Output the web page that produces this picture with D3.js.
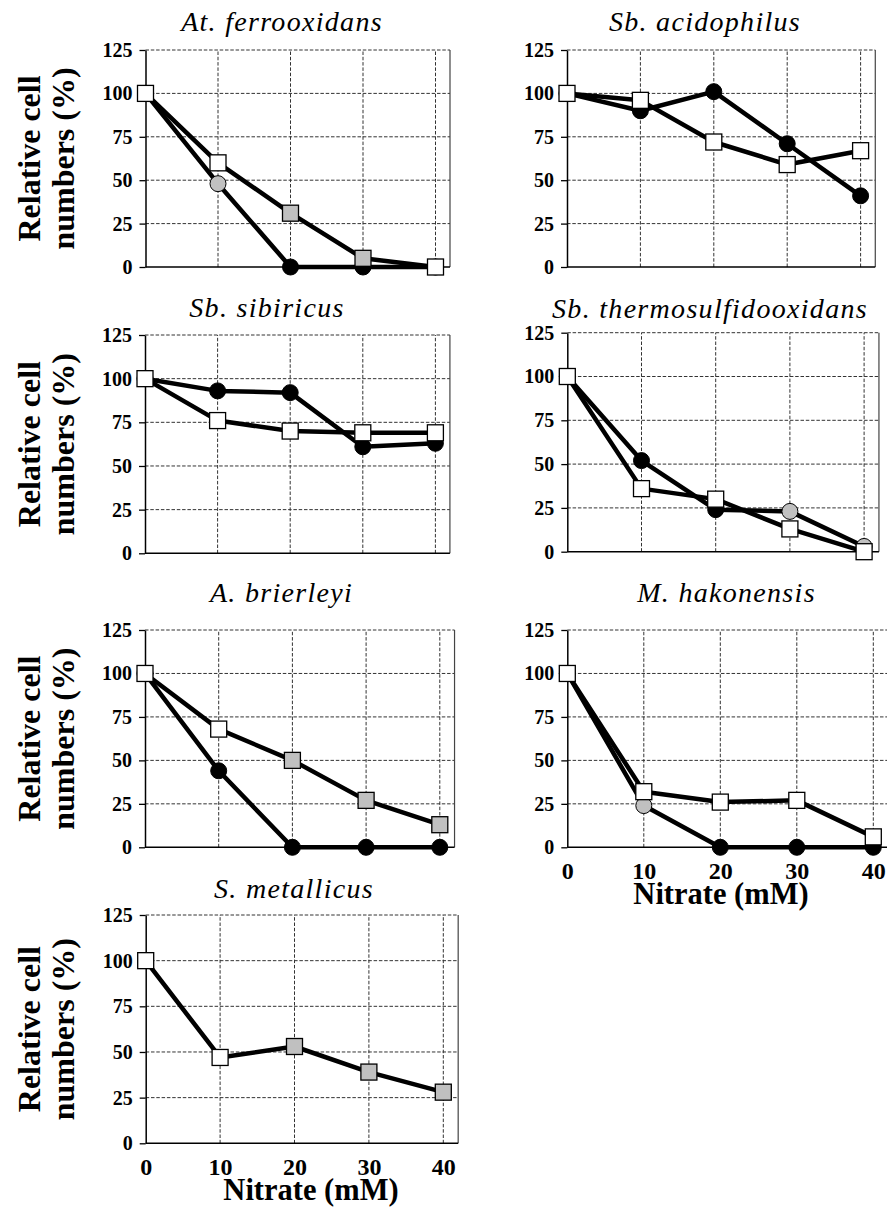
<!DOCTYPE html>
<html>
<head>
<meta charset="utf-8">
<script src="https://cdn.jsdelivr.net/npm/d3@7"></script>
<style>
  html, body { margin: 0; padding: 0; background: #fff; }
  svg { display: block; }
</style>
</head>
<body>
<svg id="chart" width="887" height="1209"></svg>
<script>
// Nitrate concentrations (mM) on the x axis, shared by every panel
const nitrate = [0, 10, 20, 30, 40];
const xTickLabels = [0, 10, 20, 30, 40];
const yTickValues = [0, 25, 50, 75, 100, 125];

// Species shown, one panel each
const species = [
  "At. ferrooxidans", "Sb. acidophilus",
  "Sb. sibiricus", "Sb. thermosulfidooxidans",
  "A. brierleyi", "M. hakonensis",
  "S. metallicus"
];

// Relative cell numbers (%) — circle series (null where a panel has none)
const circleSeries = [
  [100, 48, 0, 0, 0],
  [100, 90, 101, 71, 41],
  [100, 93, 92, 61, 63],
  [100, 52, 24, 23, 3],
  [100, 44, 0, 0, 0],
  [100, 24, 0, 0, 0],
  null
];
// Marker shading per point: k = black, g = grey
const circleShades = [
  ["k", "g", "k", "k", "k"],
  ["k", "k", "k", "k", "k"],
  ["k", "k", "k", "k", "k"],
  ["k", "k", "k", "g", "g"],
  ["k", "k", "k", "k", "k"],
  ["k", "g", "k", "k", "k"],
  null
];

// Relative cell numbers (%) — square series
const squareSeries = [
  [100, 60, 31, 5, 0],
  [100, 96, 72, 59, 67],
  [100, 76, 70, 69, 69],
  [100, 36, 30, 13, 0],
  [100, 68, 50, 27, 13],
  [100, 32, 26, 27, 6],
  [100, 47, 53, 39, 28]
];
// Marker shading per point: w = white, g = grey
const squareShades = [
  ["w", "w", "g", "g", "w"],
  ["w", "w", "w", "w", "w"],
  ["w", "w", "w", "w", "w"],
  ["w", "w", "w", "w", "w"],
  ["w", "w", "g", "g", "g"],
  ["w", "w", "w", "w", "w"],
  ["w", "w", "g", "g", "g"]
];

// Panel frames: plot left edge, pixel step per 10 mM, top (125 %) and bottom (0 %)
const panels = [
  { left: 145.5, step: 72.5, top: 50,    bottom: 267,    titleX: 282,   titleY: 31,  yLabel: true,  xAxis: false },
  { left: 567,   step: 73.4, top: 50,    bottom: 267,    titleX: 705,   titleY: 31,  yLabel: false, xAxis: false },
  { left: 145,   step: 72.6, top: 335,   bottom: 553.3,  titleX: 267,   titleY: 317, yLabel: true,  xAxis: false },
  { left: 567.3, step: 74.2, top: 332.7, bottom: 551.7,  titleX: 710,   titleY: 318, yLabel: false, xAxis: false },
  { left: 145,   step: 73.7, top: 630,   bottom: 847.3,  titleX: 281.5, titleY: 602, yLabel: true,  xAxis: false },
  { left: 567.3, step: 76.5, top: 630,   bottom: 847.3,  titleX: 726.5, titleY: 602, yLabel: false, xAxis: true, xTitleX: 721 },
  { left: 145.7, step: 74.4, top: 915,   bottom: 1143.3, titleX: 294,   titleY: 898, yLabel: true,  xAxis: true, xTitleX: 311 }
];

const shadeColor = { k: "#000000", g: "#c0c0c0", w: "#ffffff" };
const SERIF = '"Liberation Serif"';

const svg = d3.select("#chart");

panels.forEach((p, i) => {
  const x = d3.scaleLinear().domain([0, 42]).range([p.left, p.left + 4.2 * p.step]);
  const y = d3.scaleLinear().domain([0, 125]).range([p.bottom, p.top]);
  const g = svg.append("g");

  // Horizontal dashed gridlines
  g.selectAll("line.hgrid").data(yTickValues.filter(v => v > 0)).join("line")
    .attr("x1", x(0)).attr("x2", x(42))
    .attr("y1", d => y(d)).attr("y2", d => y(d))
    .attr("stroke", "#333").attr("stroke-width", 1).attr("stroke-dasharray", "3.5,1.8");

  // Vertical dashed gridlines
  g.selectAll("line.vgrid").data(nitrate.filter(v => v > 0)).join("line")
    .attr("x1", d => x(d)).attr("x2", d => x(d))
    .attr("y1", y(0)).attr("y2", y(125))
    .attr("stroke", "#333").attr("stroke-width", 1).attr("stroke-dasharray", "3.5,1.8");

  // Right frame edge
  g.append("line")
    .attr("x1", x(42)).attr("x2", x(42)).attr("y1", y(0)).attr("y2", y(125))
    .attr("stroke", "#444").attr("stroke-width", 1.2);

  // Bottom axis line
  g.append("line")
    .attr("x1", x(0)).attr("x2", x(42)).attr("y1", y(0)).attr("y2", y(0))
    .attr("stroke", "#000").attr("stroke-width", 1.5);

  // Left axis with ticks
  const yAxis = g.append("g")
    .attr("transform", `translate(${x(0)},0)`)
    .call(d3.axisLeft(y).tickValues(yTickValues).tickSize(6).tickSizeOuter(0).tickPadding(7));
  yAxis.select(".domain").attr("stroke", "#000").attr("stroke-width", 1.5);
  yAxis.selectAll(".tick line").attr("stroke", "#000").attr("stroke-width", 1.3);
  yAxis.selectAll(".tick text")
    .style("font-family", SERIF).style("font-weight", "bold").style("font-size", "20px")
    .attr("fill", "#000");

  // Bottom tick labels (lowest panels only)
  if (p.xAxis) {
    const xAxis = g.append("g")
      .attr("transform", `translate(0,${y(0)})`)
      .call(d3.axisBottom(x).tickValues(xTickLabels).tickSize(0).tickPadding(15));
    xAxis.select(".domain").remove();
    xAxis.selectAll(".tick text")
      .style("font-family", SERIF).style("font-weight", "bold").style("font-size", "24px")
      .attr("fill", "#000");
    g.append("text")
      .attr("x", p.xTitleX).attr("y", y(0) + 57)
      .attr("text-anchor", "middle")
      .style("font-family", SERIF).style("font-weight", "bold").style("font-size", "30.5px")
      .text("Nitrate (mM)");
  }

  // Panel title (species name)
  g.append("text")
    .attr("x", p.titleX).attr("y", p.titleY)
    .attr("text-anchor", "middle")
    .style("font-family", SERIF).style("font-style", "italic").style("font-size", "28px")
    .style("letter-spacing", "1.3px")
    .text(species[i]);

  // Y axis title, two lines
  if (p.yLabel) {
    const cy = (y(0) + y(125)) / 2;
    const yl = g.append("g").attr("transform", `translate(0,${cy}) rotate(-90)`);
    yl.append("text").attr("x", 0).attr("y", 40).attr("text-anchor", "middle")
      .style("font-family", SERIF).style("font-weight", "bold").style("font-size", "32px")
      .text("Relative cell");
    yl.append("text").attr("x", 0).attr("y", 74).attr("text-anchor", "middle")
      .style("font-family", SERIF).style("font-weight", "bold").style("font-size", "32px")
      .text("numbers (%)");
  }

  const line = d3.line().x(d => x(d.n)).y(d => y(d.v));

  const circles = circleSeries[i]
    ? circleSeries[i].map((v, j) => ({ n: nitrate[j], v, s: circleShades[i][j] }))
    : null;
  const squares = squareSeries[i].map((v, j) => ({ n: nitrate[j], v, s: squareShades[i][j] }));

  if (circles) {
    g.append("path").datum(circles).attr("d", line)
      .attr("fill", "none").attr("stroke", "#000").attr("stroke-width", 4.5).attr("stroke-linejoin", "round");
  }
  g.append("path").datum(squares).attr("d", line)
    .attr("fill", "none").attr("stroke", "#000").attr("stroke-width", 4.5).attr("stroke-linejoin", "round");

  if (circles) {
    g.selectAll("circle.pt").data(circles).join("circle")
      .attr("cx", d => x(d.n)).attr("cy", d => y(d.v)).attr("r", 8)
      .attr("fill", d => shadeColor[d.s]).attr("stroke", "#000").attr("stroke-width", 1);
  }
  const sq = 16;
  g.selectAll("rect.pt").data(squares).join("rect")
    .attr("x", d => x(d.n) - sq / 2).attr("y", d => y(d.v) - sq / 2)
    .attr("width", sq).attr("height", sq)
    .attr("fill", d => shadeColor[d.s]).attr("stroke", "#000").attr("stroke-width", 1.3);
});
</script>
</body>
</html>
